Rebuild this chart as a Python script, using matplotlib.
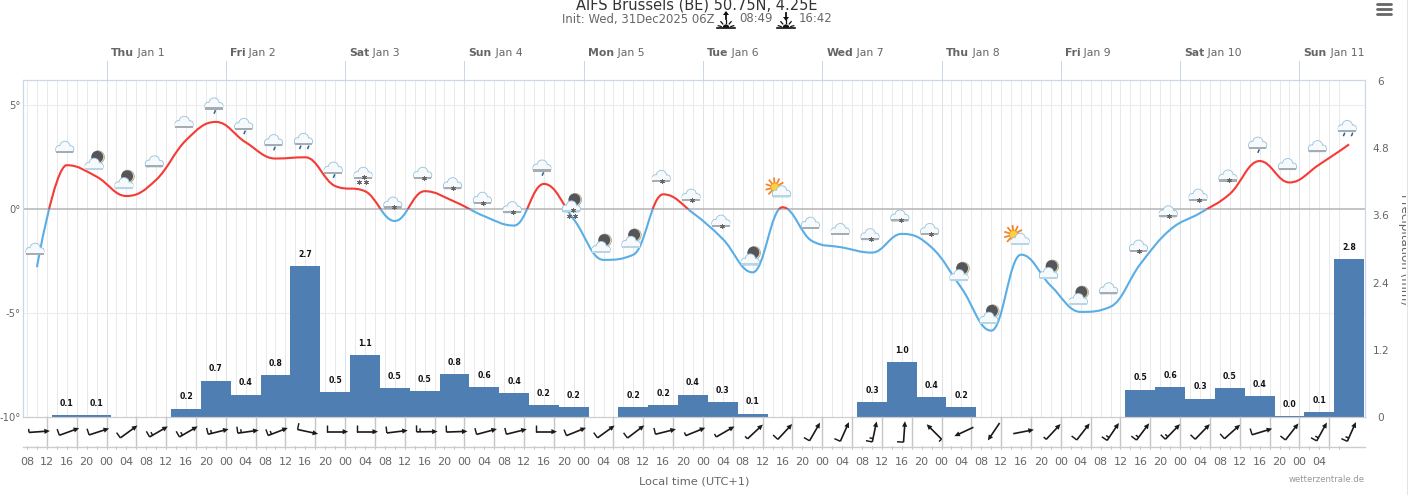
#!/usr/bin/python
# coding: utf-8
import numpy as np
import matplotlib
matplotlib.use('Agg')
import matplotlib.pyplot as plt
from matplotlib.path import Path
from matplotlib.patches import PathPatch, Circle, Rectangle, Polygon, FancyBboxPatch, Wedge
from matplotlib.transforms import Bbox, TransformedBbox

# Gegevens: 6-hourly, hours counted from Thu Jan 1 00:00
hours = np.arange(-14, 251, 6)
temp = [-2.8, 2.1, 1.55, 0.62, 1.4, 3.3, 4.18, 3.2, 2.42, 2.48, 1.1, 0.85, -0.58, 0.85, 0.35,
        -0.35, -0.8, 1.2, -0.5, -2.45, -2.2, 0.7, -0.2, -1.45, -3.05, 0.08, -1.55, -1.85, -2.1, -1.2,
        -1.85, -3.8, -5.85, -2.2, -3.7, -4.95, -4.7, -2.65, -1.0, -0.2, 0.72, 2.3, 1.27, 2.13, 3.1]
precip = [0, 0.04, 0.04, 0, 0, 0.15, 0.65, 0.4, 0.75, 2.7, 0.45, 1.1, 0.52, 0.47, 0.77,
          0.54, 0.43, 0.22, 0.18, 0, 0.17, 0.22, 0.4, 0.26, 0.06, 0, 0, 0, 0.27, 0.98,
          0.35, 0.17, 0, 0, 0, 0, 0, 0.49, 0.54, 0.33, 0.51, 0.38, 0.02, 0.095, 2.82]
precip_labels = ['', '0.1', '0.1', '', '', '0.2', '0.7', '0.4', '0.8', '2.7', '0.5', '1.1', '0.5', '0.5', '0.8',
                 '0.6', '0.4', '0.2', '0.2', '', '0.2', '0.2', '0.4', '0.3', '0.1', '', '', '', '0.3', '1.0',
                 '0.4', '0.2', '', '', '', '', '', '0.5', '0.6', '0.3', '0.5', '0.4', '0.0', '0.1', '2.8']
wind_angle = [4, 20, 18, 36, 30, 30, 14, 8, 21, -12, 0, 0, 7, 1, 2,
              15, 14, 0, 22, 36, 37, 14, 22, 30, 43, 47, 60, 66, 78, 86,
              135, 205, 236, 11, 47, 52, 56, 53, 46, 46, 42, 17, 52, 61, 66]
wind_barbs = [0.5, 1, 1, 1, 1.5, 1.5, 1.5, 1.5, 1.5, 1, 1, 1, 1, 1.5, 1,
              1, 1, 1, 1, 1, 1, 1, 0.5, 0.5, 0.5, 1, 1, 1, 1.5, 1,
              0.5, 0, 0, 0, 0.5, 1, 1.5, 1.5, 1.5, 1, 1, 1, 1, 1.5, 1.5]
icons = ['cloud', 'cloud', 'moon', 'moon', 'cloud', 'cloud', 'rain1', 'rain1', 'rain1', 'rain2', 'rain1', 'snow2',
         'snow1', 'snow1', 'snow1', 'snow1', 'snow1', 'rain1', 'moonsnow', 'moon', 'moon', 'snow1', 'snow1', 'snow1',
         'moon', 'sun', 'cloud', 'cloud', 'snow1', 'snow1', 'snow1', 'moon', 'moon', 'sun', 'moon', 'moon', 'cloud',
         'snow1', 'snow1', 'snow1', 'snow1', 'rain1', 'cloud', 'cloud', 'rain2']
day_hours = [0, 24, 48, 72, 96, 120, 144, 168, 192, 216, 240]
day_names = ['Thu', 'Fri', 'Sat', 'Sun', 'Mon', 'Tue', 'Wed', 'Thu', 'Fri', 'Sat', 'Sun']
day_dates = ['Jan 1', 'Jan 2', 'Jan 3', 'Jan 4', 'Jan 5', 'Jan 6', 'Jan 7', 'Jan 8', 'Jan 9', 'Jan 10', 'Jan 11']
time_hours = np.arange(-16, 245, 4)
time_labels = ['08', '12', '16', '20', '00', '04'] * 11
temp_ticks = [5, 0, -5, -10]
precip_ticks = [0, 1.2, 2.4, 3.6, 4.8, 6]

W, H = 1410, 495
GREY = '#666666'
AXCOL = '#ccd6eb'
LINEW = 0.72  # 1 px


def spline_path(x, y):
    # cubic spline the way the web chart draws it
    sm, den = 1.5, 2.5
    n = len(x)
    verts = [(x[0], y[0])]
    codes = [Path.MOVETO]
    lc = [(x[0], y[0])] * n
    rc = [(x[0], y[0])] * n
    lc[n-1] = (x[n-1], y[n-1])
    rc[n-1] = (x[n-1], y[n-1])
    for i in range(1, n-1):
        lx = (sm*x[i] + x[i-1])/den
        ly = (sm*y[i] + y[i-1])/den
        rx = (sm*x[i] + x[i+1])/den
        ry = (sm*y[i] + y[i+1])/den
        corr = (ry-ly)*(rx-x[i])/(rx-lx) + y[i] - ry
        ly += corr
        ry += corr
        if ly > y[i-1] and ly > y[i]:
            ly = max(y[i-1], y[i])
            ry = 2*y[i] - ly
        elif ly < y[i-1] and ly < y[i]:
            ly = min(y[i-1], y[i])
            ry = 2*y[i] - ly
        if ry > y[i+1] and ry > y[i]:
            ry = max(y[i+1], y[i])
            ly = 2*y[i] - ry
        elif ry < y[i+1] and ry < y[i]:
            ry = min(y[i+1], y[i])
            ly = 2*y[i] - ry
        lc[i] = (lx, ly)
        rc[i] = (rx, ry)
    for i in range(1, n):
        verts += [rc[i-1], lc[i], (x[i], y[i])]
        codes += [Path.CURVE4, Path.CURVE4, Path.CURVE4]
    return Path(verts, codes)


fig = plt.figure(figsize=(W/100., H/100.), dpi=100)
ax_p = fig.add_axes([23./W, (H-417.)/H, 1342./W, 336.5/H])
ax = ax_p.twinx()
ax.yaxis.tick_left()
ax.set_zorder(ax_p.get_zorder()+1)
ax.patch.set_visible(False)
ax_p.set_facecolor('white')

# assen
ax.set_xlim(-16.8, 253.2)
ax.set_ylim(-10, 6.17)
ax_p.set_ylim(0, 6.01)
for a in (ax, ax_p):
    for s in a.spines.values():
        s.set_color(AXCOL)
        s.set_linewidth(1.1*LINEW)
    a.spines['bottom'].set_color('#cccccc')

# achtergrond raster
for h in np.arange(-16, 249, 2):
    ax_p.axvline(h, color='#e9e9e9', lw=LINEW, zorder=0)
for h in day_hours:
    ax_p.axvline(h, color='#dde1e8', lw=LINEW, zorder=0.5)
for t in (5, -5):
    ax_p.plot([-16.8, 253.2], [t, t], color='#eeeeee', lw=1.2*LINEW, zorder=0.6, transform=ax.transData)
ax_p.plot([-16.8, 253.2], [0, 0], color='#b3b3b3', lw=1.5*LINEW, zorder=1, transform=ax.transData)

# neerslag
ax_p.bar(hours, precip, width=6, color='#4f7fb2', zorder=2)
for h, p, lab in zip(hours, precip, precip_labels):
    if lab:
        ax_p.annotate(lab, xy=(h, p), xytext=(0, 8.4), textcoords='offset points', ha='center', va='center',
                      fontsize=5.6, fontweight='bold', color='#111111', zorder=3)

# temperatuur, rood boven en blauw onder nul
path = spline_path(hours, temp)
p_red = PathPatch(path, fill=False, ec='#f53b36', lw=2.1*LINEW, zorder=4, capstyle='butt')
p_blue = PathPatch(path, fill=False, ec='#5aaee6', lw=2.1*LINEW, zorder=4, capstyle='butt')
ax.add_patch(p_red)
ax.add_patch(p_blue)
p_red.set_clip_box(TransformedBbox(Bbox([[-50, 0], [300, 7]]), ax.transData))
p_blue.set_clip_box(TransformedBbox(Bbox([[-50, -11], [300, 0]]), ax.transData))

# ticks
ax_p.set_xticks(time_hours)
ax_p.set_xticklabels(time_labels, fontsize=8, color=GREY)
ax_p.tick_params(axis='x', length=0, pad=29)
ax.set_yticks(temp_ticks)
ax.set_yticklabels(['%d°' % t for t in temp_ticks], fontsize=7.2, color=GREY)
ax.tick_params(axis='y', length=0, pad=1.5, left=False, right=False, labelleft=True, labelright=False)
ax_p.yaxis.tick_right()
ax_p.set_yticks(precip_ticks)
ax_p.set_yticklabels(['%g' % t for t in precip_ticks], fontsize=7.6, color=GREY, ha='center')
ax_p.tick_params(axis='y', length=0, pad=11.5)
ax_p.set_xlabel('Local time (UTC+1)', fontsize=8.2, color=GREY, va='center')
ax_p.xaxis.set_label_coords(0.5, -(481.-417.)/336.5)

# overlay in pixels
ov = fig.add_axes([0, 0, 1, 1])
ov.set_xlim(0, W)
ov.set_ylim(H, 0)
ov.axis('off')
ov.set_zorder(10)


def to_px(h, t):
    d = ax.transData.transform((h, t))
    return d[0], H - d[1]


def hx(h):
    return to_px(h, 0)[0]


def cloud(cx, cy, band='#a6adb2'):
    bumps = [(-5.6, 2.2, 2.9), (0.2, -0.3, 4.7), (5.9, 2.3, 2.8)]
    edge = '#9cc4dc'
    fill = '#f7fafc'
    for dx, dy, r in bumps:
        ov.add_patch(Circle((cx+dx, cy+dy), r+0.9, fc=edge, ec='none', zorder=5))
    ov.add_patch(FancyBboxPatch((cx-8.7, cy+2), 17.4, 3.6, boxstyle='round,pad=0.5,rounding_size=1.5',
                                fc=edge, ec='none', zorder=5))
    for dx, dy, r in bumps:
        ov.add_patch(Circle((cx+dx, cy+dy), r, fc=fill, ec='none', zorder=5))
    ov.add_patch(Rectangle((cx-8.7, cy+1.5), 17.4, 3.5, fc=fill, ec='none', zorder=5))
    ov.add_patch(Rectangle((cx-8.7, cy+4.0), 17.4, 2.1, fc=band, ec='none', zorder=5))


def moon(cx, cy):
    ov.add_patch(Circle((cx+3.5, cy-6.5), 6.4, fc='#e9e3bd', ec='#8f8f80', lw=0.4, zorder=4.5))
    ov.add_patch(Circle((cx+2.8, cy-6.8), 5.9, fc='#56565a', ec='none', zorder=4.6))


def sun(cx, cy):
    x0, y0 = cx-5.5, cy-4
    for a in np.radians(np.arange(0, 360, 33)):
        ov.plot([x0+5*np.cos(a), x0+8.8*np.cos(a)], [y0+5*np.sin(a), y0+8.8*np.sin(a)],
                color='#f5842a', lw=1.3, zorder=4.5)
    ov.add_patch(Circle((x0, y0), 4.2, fc='#fcd23a', ec='#f5942a', lw=0.6, zorder=4.6))


def drops(cx, cy, offs):
    for dx in offs:
        ov.plot([cx+dx-0.5, cx+dx+0.4], [cy+9.6, cy+7.5], color='#27629a', lw=1.1, zorder=5.5)


def stars(xs, y):
    ov.plot(xs, [y]*len(xs), ls='none', marker=(6, 2, 0), ms=3.6, mew=0.55, color='#666666', zorder=5.5)


for h, t, kind in zip(hours, temp, icons):
    x, y = to_px(h, t)
    x -= 2
    if kind in ('moon', 'moonsnow'):
        cy = y-13
        moon(x, cy)
        cloud(x-0.5, cy, band='#b6d6e8')
        if kind == 'moonsnow':
            stars([x-3, x+3.5], cy+10)
            stars([x+1], cy+4)
    elif kind == 'sun':
        cy = y-16
        sun(x, cy)
        cloud(x+1, cy, band='#b6d6e8')
    else:
        cy = y-18.5
        cloud(x, cy)
        if kind == 'rain1':
            drops(x, cy, [1])
        elif kind == 'rain2':
            drops(x, cy, [-3, 5])
        elif kind == 'snow1':
            stars([x+1], cy+5)
        elif kind == 'snow2':
            stars([x-4, x+3], cy+9.5)
            stars([x+1], cy+4)

# kader boven en dagen
for h, name, date in zip(day_hours, day_names, day_dates):
    x = hx(h)
    ov.plot([x, x], [61, 80.5], color=AXCOL, lw=1.0*LINEW, zorder=2)
    tb = ov.text(x+4, 58.3, name, fontsize=7.8, fontweight='bold', color=GREY, ha='left', va='bottom')
    ov.annotate(' '+date, xy=(1, 0), xycoords=tb, fontsize=7.8, color=GREY, ha='left', va='bottom')

# windrij
ov.plot([23, 1365], [447.3, 447.3], color='#cccccc', lw=1.4*LINEW, zorder=2)
for h in np.arange(-12, 247, 6):
    x = hx(h)
    ov.plot([x, x], [417, 447], color='#c6c6c6', lw=1.4*LINEW, zorder=2)
for h in np.arange(-16, 249, 2):
    x = hx(h)
    ov.plot([x, x], [445.8, 449], color='#cccccc', lw=LINEW, zorder=2)

for h, ang, nb in zip(hours, wind_angle, wind_barbs):
    x0 = hx(h) + 2.5
    y0 = 431.7
    c, s = np.cos(np.radians(ang)), np.sin(np.radians(ang))
    L = 21.
    tx, ty = x0-c*L/2, y0+s*L/2
    ax_, ay_ = x0+c*L/2, y0-s*L/2
    ov.plot([tx, ax_-c*3], [ty, ay_+s*3], color='#1a1a1a', lw=1.2, solid_capstyle='butt', zorder=6)
    ov.add_patch(Polygon([(ax_, ay_), (ax_-c*5.5-s*2.6, ay_+s*5.5-c*2.6), (ax_-c*5.5+s*2.6, ay_+s*5.5+c*2.6)],
                         closed=True, fc='#1a1a1a', ec='none', zorder=6))
    pos = 0.
    left = nb
    while left > 0:
        blen = 6.5 if left >= 1 else 3.5
        bx, by = tx+c*pos, ty-s*pos
        ov.plot([bx, bx-s*blen], [by, by-c*blen], color='#1a1a1a', lw=1.05, solid_capstyle='butt', zorder=6)
        pos += 3.5
        left -= 1

# titel
ov.text(697, 10, 'AIFS Brussels (BE) 50.75N, 4.25E', fontsize=10.5, color='#333333', ha='center', va='baseline')
ov.text(714, 22.5, 'Init: Wed, 31Dec2025 06Z', fontsize=8.4, color=GREY, ha='right', va='baseline')
ov.text(739, 22.5, '08:49', fontsize=8.4, color=GREY, ha='left', va='baseline')
ov.text(799, 22.5, '16:42', fontsize=8.4, color=GREY, ha='left', va='baseline')
# zon op en onder
for x, up in ((726, True), (786, False)):
    ov.plot([x-9, x+9], [28.4, 28.4], color='#111111', lw=1.2)
    ov.add_patch(Wedge((x, 27.8), 3.4, 180, 360, fc='#111111', ec='none'))
    for a in np.radians([15, 50, 90, 130, 165]):
        ov.plot([x+5*np.cos(a), x+8*np.cos(a)], [27.8-5*np.sin(a), 27.8-8*np.sin(a)], color='#111111', lw=0.9)
    ov.plot([x, x], [13, 19], color='#111111', lw=1.3)
    if up:
        ov.add_patch(Polygon([(x, 11), (x-3, 15), (x+3, 15)], closed=True, fc='#111111', ec='none'))
    else:
        ov.add_patch(Polygon([(x, 21), (x-3, 17), (x+3, 17)], closed=True, fc='#111111', ec='none'))

# menu knop
for y in (3.5, 8.5, 13.5):
    ov.plot([1377, 1391], [y, y], color=GREY, lw=2.0, solid_capstyle='round')

ov.text(1365, 479, 'wetterzentrale.de', fontsize=6.1, color='#999999', ha='right', va='center')

ylab = ov.text(1404, 249, 'Precipitation (mm)', fontsize=8.6, color=GREY, rotation=-90, ha='center', va='center')
ylab.set_clip_box(Bbox([[0, 0], [1406, H]]))
ylab.set_clip_on(True)
ov.plot([1406.5, 1406.5], [0, H], color='#e4e4e4', lw=LINEW)

fig.savefig('out.png', dpi=100)
